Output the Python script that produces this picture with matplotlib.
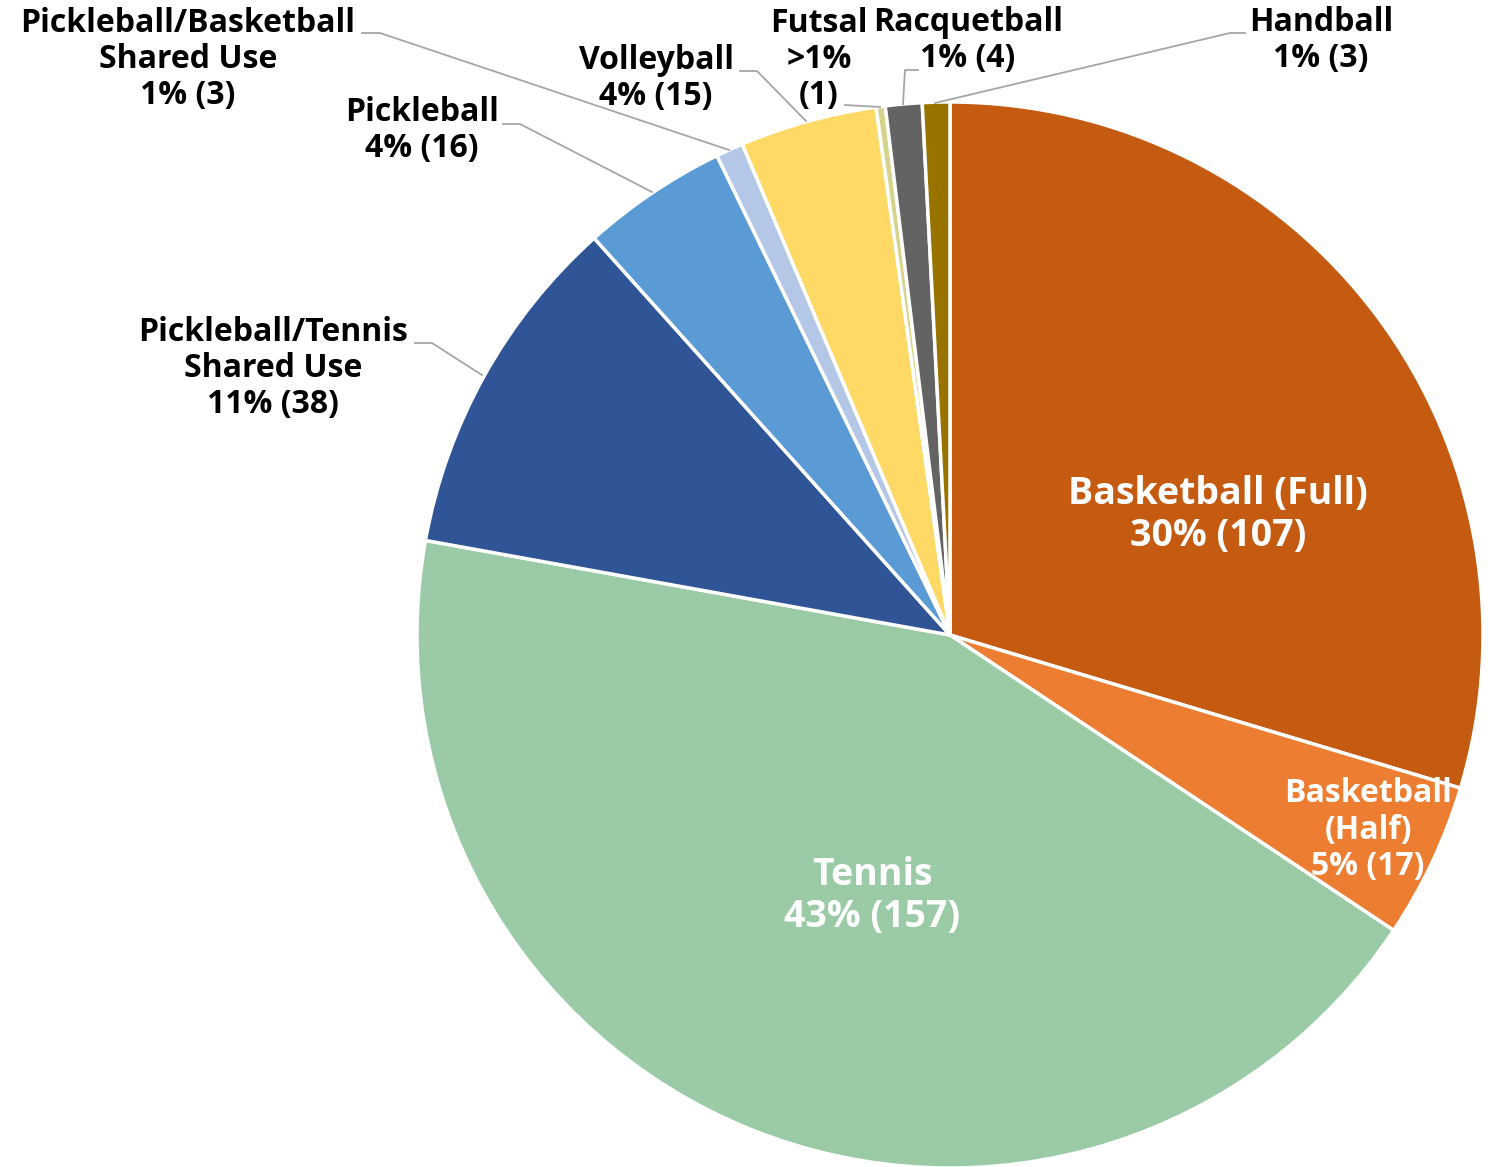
import matplotlib.pyplot as plt

labels = ['Basketball (Full)', 'Basketball (Half)', 'Tennis', 'Pickleball/Tennis\nShared Use',
          'Pickleball', 'Pickleball/Basketball\nShared Use', 'Volleyball', 'Futsal',
          'Racquetball', 'Handball']
counts = [107, 17, 157, 38, 16, 3, 15, 1, 4, 3]
pcts = ['30%', '5%', '43%', '11%', '4%', '1%', '4%', '>1%', '1%', '1%']
colors = ['#C55A11', '#ED7D31', '#9ACBA6', '#2F5597', '#5B9BD5', '#B4C7E7',
          '#FFD966', '#D6D38A', '#636363', '#997300']

W, H = 1498, 1167
CX, CY, R = 950, 635, 533


def px(x, y):
    # pixel position -> data coords (pie centre at 0,0, radius 1)
    return (x - CX) / R, (CY - y) / R


plt.rcParams['font.family'] = ['Open Sans', 'DejaVu Sans']

fig = plt.figure(figsize=(W / 100, H / 100), dpi=100)
ax = fig.add_axes([0, 0, 1, 1])
ax.pie(counts, colors=colors, startangle=90, counterclock=False, radius=1,
       wedgeprops=dict(edgecolor='white', linewidth=2.5))
ax.set_xlim(-CX / R, (W - CX) / R)
ax.set_ylim(-(H - CY) / R, CY / R)
ax.set_aspect('equal')
ax.axis('off')

# inside labels
inside = {
    0: ('Basketball (Full)', (1218, 515), 27),
    1: ('Basketball\n(Half)', (1368, 830), 23),
    2: ('Tennis', (872, 896), 27),
}
for i, (name, (x, y), fs) in inside.items():
    ax.text(*px(x, y), f'{name}\n{pcts[i]} ({counts[i]})', color='white', fontsize=fs,
            fontweight='bold', ha='center', va='center',
            linespacing=1.12 if fs < 25 else 1.15)

# outside labels with leader lines: text centre, leader points
outside = [
    (3, (273, 368), [(415, 343), (432, 343), (482, 375)]),
    (4, (422, 130), [(503, 124), (520, 124), (652, 192)]),
    (5, (188, 59), [(362, 33), (380, 33), (729, 150)]),
    (6, (656, 78), [(740, 71), (757, 71), (806, 121)]),
    (7, (819, 59), [(845, 105), (880, 107)]),
    (8, (968, 40), [(918, 70), (905, 70), (903, 104)]),
    (9, (1321, 40), [(1245, 33), (1230, 33), (935, 103)]),
]
for i, (x, y), line in outside:
    if i == 7:
        txt = f'{labels[i]}\n{pcts[i]}\n({counts[i]})'
    else:
        txt = f'{labels[i]}\n{pcts[i]} ({counts[i]})'
    ax.text(*px(x, y), txt, color='black', fontsize=23, fontweight='bold',
            ha='center', va='center', linespacing=1.12)
    pts = [px(a, b) for a, b in line]
    ax.plot([p[0] for p in pts], [p[1] for p in pts], color='#A6A6A6', lw=1.3)

fig.savefig('out.png', dpi=100)
